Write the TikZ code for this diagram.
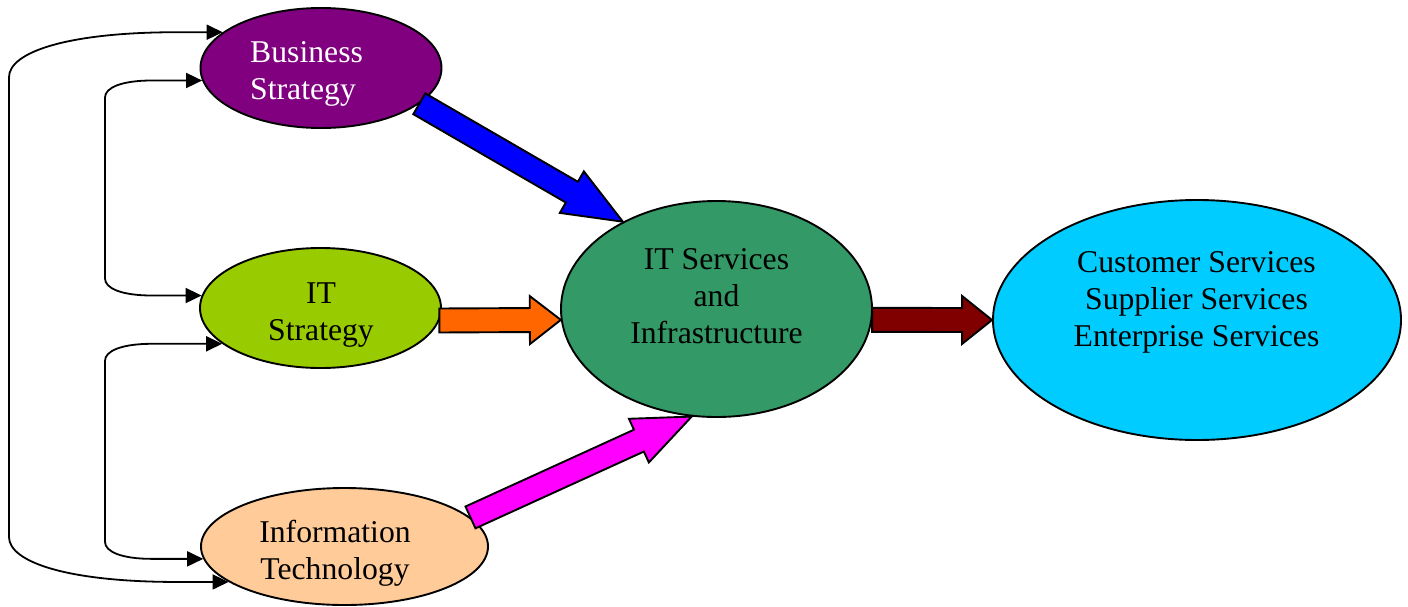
\documentclass[tikz,border=0pt]{standalone}
\usepackage{fontspec}
\setmainfont{Liberation Serif}
\usetikzlibrary{shapes.geometric,calc,arrows.meta}
\definecolor{cPurple}{HTML}{800080}
\definecolor{cLime}{HTML}{99CC00}
\definecolor{cPeach}{HTML}{FFCC99}
\definecolor{cGreen}{HTML}{339966}
\definecolor{cCyan}{HTML}{00CCFF}
\definecolor{cBlue}{HTML}{0000FF}
\definecolor{cOrange}{HTML}{FF6600}
\definecolor{cMagenta}{HTML}{FF00FF}
\definecolor{cDarkRed}{HTML}{800000}
\newcommand{\blockarr}[4]{%
  \path (#2) coordinate (ba-h) (#1) coordinate (ba-t);
  \path ($(ba-h)!#3!(ba-t)$) coordinate (ba-b);
  \draw[blockarrow, fill=#4]
    ($(ba-t)!12pt!90:(ba-h)$) -- ($(ba-b)!12pt!-90:(ba-t)$) --
    ($(ba-b)!24pt!-90:(ba-t)$) -- (ba-h) --
    ($(ba-b)!24pt!90:(ba-t)$) -- ($(ba-b)!12pt!90:(ba-t)$) --
    ($(ba-t)!12pt!-90:(ba-h)$) -- cycle;
}
\begin{document}
\begin{tikzpicture}[x=1pt,y=-1pt,
  ell/.style={ellipse, draw, line width=1.9pt, inner sep=0pt},
  txt/.style={font=\fontsize{31.7}{37}\selectfont, inner sep=0pt, align=center, anchor=base},
  conn/.style={draw, line width=1.8pt, {Triangle[length=16pt,width=15pt]}-{Triangle[length=16pt,width=15pt]}},
  blockarrow/.style={draw, line width=1.9pt, line join=miter}]
\useasboundingbox (0,0) rectangle (1408,606);

% ellipses
\node[ell, fill=cPurple, minimum width=241pt, minimum height=120pt] (bs) at (321,68) {};
\node[ell, fill=cLime, minimum width=241pt, minimum height=120pt] (its) at (320.5,308) {};
\node[ell, fill=cPeach, minimum width=287pt, minimum height=117pt] (it) at (344.5,546.5) {};
\node[ell, fill=cGreen, minimum width=311pt, minimum height=216pt] (isi) at (716.5,309) {};
\node[ell, fill=cCyan, minimum width=408pt, minimum height=240pt] (cs) at (1197,320) {};

% texts (base anchor = baseline of the last line)
\node[txt, anchor=base west, align=left, text=white] (bs-t) at (250,99) {Business\\Strategy};
\node[txt] (its-t) at (321,340) {IT\\Strategy};
\node[txt] (it-t) at (335,579) {Information\\Technology};
\node[txt] (isi-t) at (716.5,343) {IT Services\\and\\Infrastructure};
\node[txt] (cs-t) at (1196.5,346) {Customer Services\\Supplier Services\\Enterprise Services};

% block arrows
\blockarr{bs.-20}{isi.137}{59pt}{cBlue}
\blockarr{its.-6}{isi.184}{31pt}{cOrange}
\blockarr{it.13}{isi.257}{58pt}{cMagenta}
\blockarr{isi.-4}{cs.west}{30pt}{cDarkRed}

% left connectors
\coordinate (lxi) at (105,0);
\coordinate (lxo) at (9,0);
\draw[conn] (bs.186) -- ($(bs.186 -| lxi)+(47,0)$)
  .. controls +(-30,0) and +(0,-10) .. ($(bs.186 -| lxi)+(0,17)$)
  -- ($(its.174 -| lxi)+(0,-17)$)
  .. controls +(0,10) and +(-30,0) .. ($(its.174 -| lxi)+(47,0)$) -- (its.174);
\draw[conn] (its.200) -- ($(its.200 -| lxi)+(47,0)$)
  .. controls +(-30,0) and +(0,-10) .. ($(its.200 -| lxi)+(0,17)$)
  -- ($(it.185 -| lxi)+(0,-17)$)
  .. controls +(0,10) and +(-30,0) .. ($(it.185 -| lxi)+(47,0)$) -- (it.185);
\draw[conn] (bs.160) -- ($(bs.160 -| lxo)+(168,0)$)
  .. controls +(-110,0) and +(0,-25) .. ($(bs.160 -| lxo)+(0,45)$)
  -- ($(it.197 -| lxo)+(0,-45)$)
  .. controls +(0,25) and +(-110,0) .. ($(it.197 -| lxo)+(168,0)$) -- (it.197);
\end{tikzpicture}
\end{document}
